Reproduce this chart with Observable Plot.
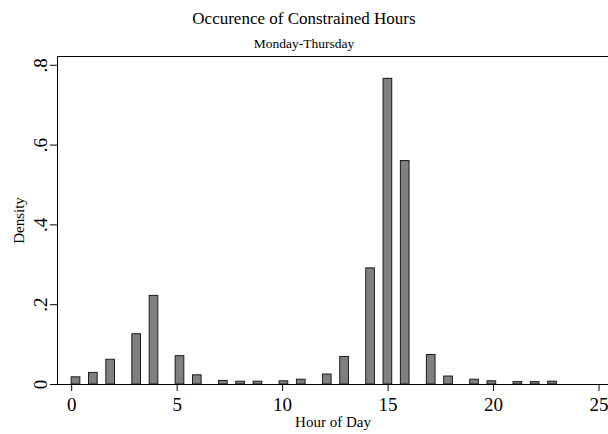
<!DOCTYPE html>
<html>
<head>
<meta charset="utf-8">
<script src="https://cdn.jsdelivr.net/npm/d3@7"></script>
<script src="https://cdn.jsdelivr.net/npm/@observablehq/plot@0.6"></script>
<style>
  body { margin: 0; background: #fff; }
  #wrap { position: relative; width: 608px; height: 434px; font-family: "Liberation Serif", "Times New Roman", serif; color: #000; }
  .t { position: absolute; left: 0; width: 608px; text-align: center; white-space: nowrap; }
  #chart { position: absolute; left: 0; top: 0; }
</style>
</head>
<body>
<div id="wrap">
  <div id="chart"></div>
  <div class="t" style="top:10px;font-size:17px;line-height:17px;">Occurence of Constrained Hours</div>
  <div class="t" style="top:37px;font-size:13.5px;line-height:13.5px;">Monday-Thursday</div>
</div>
<script>
// Histogram of hour of day (Stata-style: 56 bins over 0..23)
const hours = [0, 1, 2, 3, 4, 5, 6, 7, 8, 9, 10, 11, 12, 13, 14, 15, 16, 17, 18, 19, 20, 21, 22, 23];
const density = [0.018, 0.029, 0.062, 0.126, 0.222, 0.071, 0.023, 0.009, 0.007, 0.007, 0.008, 0.012,
                 0.025, 0.069, 0.291, 0.766, 0.560, 0.074, 0.020, 0.012, 0.008, 0.006, 0.006, 0.007];
const nBins = 56;
const xMin = 0, xMax = 23;
const xTicks = [0, 5, 10, 15, 20, 25];
const yTicks = [0, 0.2, 0.4, 0.6, 0.8];
const yTickLabels = ["0", ".2", ".4", ".6", ".8"];

const binW = (xMax - xMin) / nBins;
const data = hours.map((h, i) => {
  const k = Math.min(nBins - 1, Math.floor((h - xMin) / binW));
  return { hour: h, density: density[i], x1: xMin + k * binW, x2: xMin + (k + 1) * binW };
});

const font = "Liberation Serif, Times New Roman, serif";

const chart = Plot.plot({
  width: 608,
  height: 434,
  marginTop: 56,
  marginBottom: 50,
  marginLeft: 57,
  marginRight: 0,
  style: { fontFamily: font, background: "#fff", color: "#000" },
  x: { domain: [-0.673, 25.45], axis: null },
  y: { domain: [0, 0.822], axis: null },
  marks: [
    Plot.rectY(data, { x1: "x1", x2: "x2", y: "density", fill: "#808080", stroke: "#1a1a1a", strokeWidth: 1 }),
    Plot.ruleY([0], { stroke: "#000", strokeWidth: 1 }),
    Plot.frame({ anchor: "top", stroke: "#000" }),
    Plot.frame({ anchor: "left", stroke: "#000" }),
    Plot.axisX({ ticks: xTicks, tickSize: 7, tickPadding: 6, fontSize: 19, label: null, tickFormat: d => String(d) }),
    Plot.axisY({ ticks: yTicks, tickSize: 7, tickPadding: 4, fontSize: 19, label: null, tickRotate: -90,
                 tickFormat: d => yTickLabels[yTicks.indexOf(d)] }),
    Plot.text(["Hour of Day"], { frameAnchor: "bottom", dy: 42, fontSize: 15, textAnchor: "middle", lineAnchor: "bottom", fill: "#000" }),
    Plot.text(["Density"], { frameAnchor: "left", dx: -34, rotate: -90, fontSize: 15, textAnchor: "middle", lineAnchor: "bottom", fill: "#000" })
  ]
});
document.getElementById("chart").appendChild(chart);
</script>
</body>
</html>
